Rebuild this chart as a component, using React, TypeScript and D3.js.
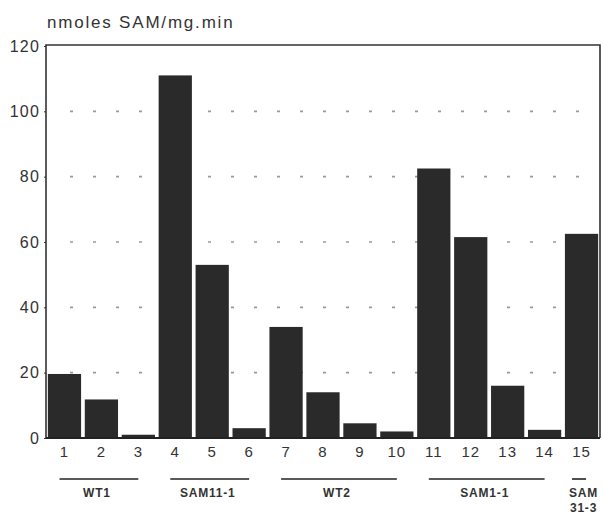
import { useEffect, useRef } from 'react';
import * as d3 from 'd3';

// lane numbers and measured activity (nmoles SAM/mg.min)
const lanes = ['1', '2', '3', '4', '5', '6', '7', '8', '9', '10', '11', '12', '13', '14', '15'];
const activity = [19.6, 11.8, 1, 111, 53, 3, 34, 14, 4.5, 2, 82.5, 61.5, 16, 2.5, 62.5];
const yTicks = [0, 20, 40, 60, 80, 100, 120];
const gridValues = [20, 40, 60, 80, 100];

// strain groups under the lanes
const groupNames = [['WT1'], ['SAM11-1'], ['WT2'], ['SAM1-1'], ['SAM', '31-3']];
const groupFirst = ['1', '4', '7', '11', '15'];
const groupLast = ['3', '6', '10', '14', '15'];

const App = () => {
  const ref = useRef<SVGSVGElement>(null);

  useEffect(() => {
    const width = 603;
    const height = 515;
    const left = 46;
    const right = 600;
    const top = 46;
    const bottom = 438;

    const svg = d3.select(ref.current);
    svg.selectAll('*').remove();

    const x = d3.scaleBand<string>()
      .domain(lanes)
      .range([left, right])
      .paddingInner(0.1)
      .paddingOuter(0.05);

    const y = d3.scaleLinear().domain([0, 120]).range([bottom, top]);

    const font = 'Liberation Sans, Arial, sans-serif';

    // dotted grid, drawn behind the bars
    svg.append('g')
      .selectAll('line')
      .data(gridValues)
      .join('line')
      .attr('x1', 70)
      .attr('x2', right - 4)
      .attr('y1', (d) => y(d))
      .attr('y2', (d) => y(d))
      .attr('stroke', '#999')
      .attr('stroke-width', 1.6)
      .attr('stroke-dasharray', '3 20');

    // bars
    svg.append('g')
      .selectAll('rect')
      .data(activity)
      .join('rect')
      .attr('x', (_, i) => x(lanes[i]) as number)
      .attr('y', (d) => y(d))
      .attr('width', x.bandwidth())
      .attr('height', (d) => bottom - y(d))
      .attr('fill', '#2a2a2a');

    // frame
    svg.append('path')
      .attr('d', `M${left},${bottom}V${top - 1}H${right}V${bottom}`)
      .attr('fill', 'none')
      .attr('stroke', '#333')
      .attr('stroke-width', 1.6);
    svg.append('line')
      .attr('x1', left).attr('x2', right)
      .attr('y1', bottom).attr('y2', bottom)
      .attr('stroke', '#222')
      .attr('stroke-width', 2);

    // y axis
    const yAxis = svg.append('g')
      .attr('transform', `translate(${left},0)`)
      .call(d3.axisLeft(y).tickValues(yTicks).tickSize(2).tickPadding(4));
    yAxis.select('.domain').remove();
    yAxis.selectAll('line').attr('stroke', '#333');
    yAxis.selectAll('text')
      .attr('font-family', font)
      .attr('font-size', 16)
      .attr('letter-spacing', 1.2)
      .attr('fill', '#333');

    // x axis labels
    const xAxis = svg.append('g')
      .attr('transform', `translate(0,${bottom})`)
      .call(d3.axisBottom(x).tickSize(0).tickPadding(8));
    xAxis.select('.domain').remove();
    xAxis.selectAll('text')
      .attr('font-family', font)
      .attr('font-size', 15)
      .attr('letter-spacing', 1)
      .attr('fill', '#333');

    // group underlines and names
    const bw = x.bandwidth();
    groupNames.forEach((name, i) => {
      const a = (x(groupFirst[i]) as number) + bw * 0.35;
      let b = (x(groupLast[i]) as number) + bw * 0.5;
      let a2 = a;
      if (b - a < 14) {
        const c = (a + b) / 2;
        a2 = c - 7;
        b = c + 7;
      }
      svg.append('line')
        .attr('x1', a2).attr('x2', b)
        .attr('y1', 479).attr('y2', 479)
        .attr('stroke', '#222')
        .attr('stroke-width', 1.6);
      const cx = name.length > 1 ? (x(groupFirst[i]) as number) + bw / 2 + 2 : (a2 + b) / 2 - 2;
      name.forEach((line, j) => {
        svg.append('text')
          .attr('x', cx)
          .attr('y', 497 + j * 15)
          .attr('text-anchor', 'middle')
          .attr('font-family', font)
          .attr('font-size', 12)
          .attr('font-weight', 'bold')
          .attr('letter-spacing', 0.8)
          .attr('fill', '#333')
          .text(line);
      });
    });

    // unit label
    svg.append('text')
      .attr('x', 47)
      .attr('y', 28)
      .attr('font-family', font)
      .attr('font-size', 17)
      .attr('letter-spacing', 1.8)
      .attr('fill', '#333')
      .text('nmoles SAM/mg.min');

    svg.attr('width', width).attr('height', height);
  }, []);

  return (
    <svg
      ref={ref}
      width={603}
      height={515}
      style={{ position: 'absolute', left: 0, top: 0, background: '#fff' }}
    />
  );
};

export default App;
